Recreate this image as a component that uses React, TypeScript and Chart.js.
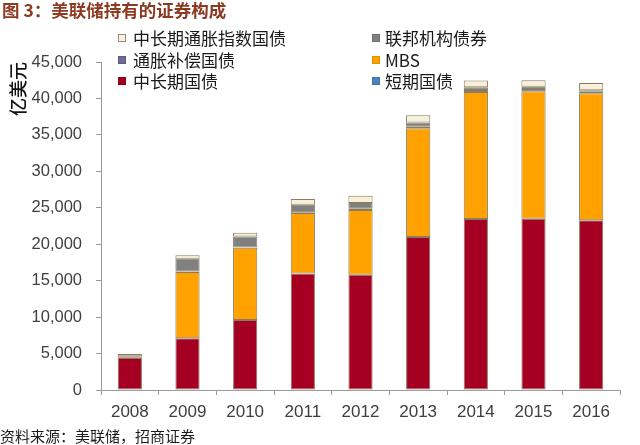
import React, { useEffect, useRef } from 'react';
import { Chart, registerables } from 'chart.js';

Chart.register(...registerables);

// 亿美元
const years = ['2008', '2009', '2010', '2011', '2012', '2013', '2014', '2015', '2016'];
const billsValues = [0, 0, 0, 0, 0, 0, 0, 0, 0];
const notesValues = [4400, 7100, 9600, 16000, 15800, 21000, 23450, 23500, 23300];
const mbsValues = [0, 9100, 9900, 8300, 8900, 14900, 17450, 17500, 17400];
const inflationCompValues = [30, 50, 60, 100, 150, 200, 250, 280, 300];
const agencyValues = [200, 1750, 1500, 1000, 800, 600, 400, 330, 120];
const tipsValues = [320, 500, 500, 800, 1000, 1000, 900, 900, 1000];
const yMax = 45000;
const yStep = 5000;

const titleText = '图 3：美联储持有的证券构成';
const sourceText = '资料来源：美联储，招商证券';
const yTitle = '亿美元';

const COLORS = {
  bills: '#4f81bd',
  notes: '#a50021',
  mbs: '#ffa200',
  comp: '#6f6a96',
  agency: '#808080',
  tips: '#f7f1dc',
};

const legendItems = [
  { label: '中长期通胀指数国债', color: COLORS.tips, border: '#9a9080' },
  { label: '联邦机构债券', color: COLORS.agency, border: '#707070' },
  { label: '通胀补偿国债', color: COLORS.comp, border: '#5f5a86' },
  { label: 'MBS', color: COLORS.mbs, border: '#e09000' },
  { label: '中长期国债', color: COLORS.notes, border: '#900018' },
  { label: '短期国债', color: COLORS.bills, border: '#3f71ad' },
];

const CJK = '"Noto Sans CJK SC", "Noto Sans", sans-serif';

export default function App() {
  const canvasRef = useRef<HTMLCanvasElement | null>(null);

  useEffect(() => {
    if (!canvasRef.current) return;
    const bw = (ctx: any) => (ctx.raw ? 1 : 0);
    const mk = (label: string, data: number[], color: string) => ({
      label,
      data,
      backgroundColor: color,
      borderColor: '#8a7c62',
      borderWidth: bw,
      borderSkipped: false as const,
      barPercentage: 0.42,
      categoryPercentage: 1,
    });
    const chart = new Chart(canvasRef.current, {
      type: 'bar',
      data: {
        labels: years,
        datasets: [
          mk('短期国债', billsValues, COLORS.bills),
          mk('中长期国债', notesValues, COLORS.notes),
          mk('MBS', mbsValues, COLORS.mbs),
          mk('通胀补偿国债', inflationCompValues, COLORS.comp),
          mk('联邦机构债券', agencyValues, COLORS.agency),
          mk('中长期通胀指数国债', tipsValues, COLORS.tips),
        ],
      },
      options: {
        animation: false,
        responsive: true,
        maintainAspectRatio: false,
        layout: { padding: { top: 62, right: 20, bottom: 0, left: 0 } },
        plugins: {
          legend: { display: false },
          tooltip: { enabled: false },
          title: { display: false },
        },
        scales: {
          x: {
            stacked: true,
            grid: {
              display: true,
              drawOnChartArea: false,
              drawTicks: true,
              tickLength: 5,
              color: '#9a9a9a',
              offset: true,
            },
            border: { display: true, color: '#9a9a9a' },
            ticks: {
              color: '#404040',
              font: { family: '"Liberation Sans", Arial, sans-serif', size: 17 },
              padding: 7,
            },
            afterFit: (scale: any) => {
              scale.height = 55;
            },
          },
          y: {
            stacked: true,
            min: 0,
            max: yMax,
            grid: {
              display: true,
              drawOnChartArea: false,
              drawTicks: true,
              tickLength: 5,
              color: '#9a9a9a',
            },
            border: { display: true, color: '#9a9a9a' },
            ticks: {
              stepSize: yStep,
              color: '#404040',
              font: { family: '"Liberation Sans", Arial, sans-serif', size: 16.5 },
              padding: 14,
              callback: (v: any) => Number(v).toLocaleString('en-US'),
            },
            title: {
              display: true,
              text: yTitle,
              align: 'end',
              color: '#111',
              font: { family: CJK, size: 18, weight: 500 },
              padding: { top: 7, bottom: 0 },
            },
            afterFit: (scale: any) => {
              scale.width = 101;
            },
          },
        },
      },
    });
    return () => chart.destroy();
  }, []);

  return (
    <div
      style={{
        position: 'fixed',
        left: 0,
        top: 0,
        width: 640,
        height: 445,
        background: '#fff',
        overflow: 'hidden',
      }}
    >
      <canvas ref={canvasRef} style={{ position: 'absolute', left: 0, top: 0, width: 640, height: 445 }} />
      <div
        style={{
          position: 'absolute',
          left: 2,
          top: 0,
          fontFamily: CJK,
          fontWeight: 700,
          fontSize: 17.5,
          lineHeight: '20px',
          color: '#8c3a22',
          whiteSpace: 'nowrap',
        }}
      >
        {titleText}
      </div>
      {legendItems.map((it, i) => {
        const col = i % 2;
        const row = Math.floor(i / 2);
        const cy = 38 + row * 21.5;
        const boxX = col === 0 ? 118 : 372;
        const textX = col === 0 ? 133 : 385;
        return (
          <React.Fragment key={it.label}>
            <div
              style={{
                position: 'absolute',
                left: boxX,
                top: cy - 4,
                width: 8,
                height: 8,
                boxSizing: 'border-box',
                background: it.color,
                border: `1px solid ${it.border}`,
              }}
            />
            <div
              style={{
                position: 'absolute',
                left: textX,
                top: cy - 11,
                fontFamily: CJK,
                fontSize: 17,
                lineHeight: '22px',
                color: '#1a1a1a',
                whiteSpace: 'nowrap',
              }}
            >
              {it.label}
            </div>
          </React.Fragment>
        );
      })}
      <div
        style={{
          position: 'absolute',
          left: 0,
          top: 427,
          fontFamily: CJK,
          fontSize: 15,
          lineHeight: '18px',
          color: '#1a1a1a',
          whiteSpace: 'nowrap',
        }}
      >
        {sourceText}
      </div>
    </div>
  );
}
